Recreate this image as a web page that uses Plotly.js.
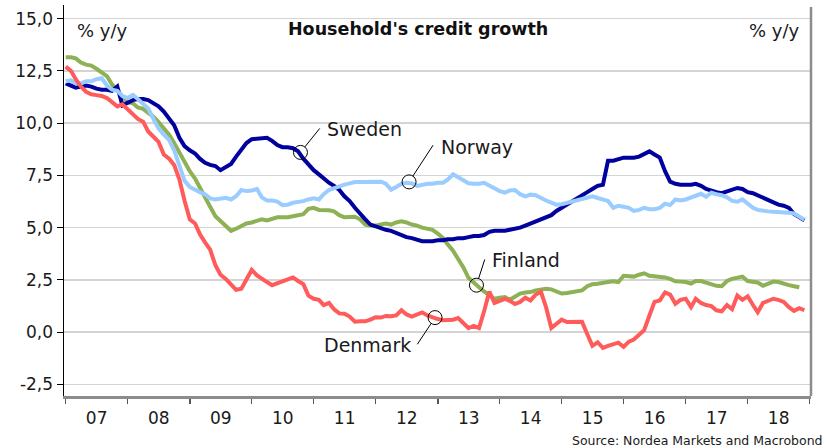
<!DOCTYPE html>
<html>
<head>
<meta charset="utf-8">
<script src="https://cdn.plot.ly/plotly-3.0.1.min.js"></script>
<style>html,body{margin:0;padding:0;background:#fff;}#chart{width:828px;height:448px;}</style>
</head>
<body>
<div id="chart"></div>
<script>
// Monthly data, Jan 2007 onward (% y/y)
const startYear = 2007;
const yTickVals = [-2.5, 0, 2.5, 5, 7.5, 10, 12.5, 15];
const yTickText = ['-2,5', '0,0', '2,5', '5,0', '7,5', '10,0', '12,5', '15,0'];
const sweden = [
  11.9, 11.8, 11.7, 11.75, 11.8, 11.75, 11.65, 11.6, 11.6, 11.55, 11.75, 10.85,
  11.0, 11.1, 11.15, 11.15, 11.1, 10.95, 10.8, 10.55, 10.2, 9.9, 9.3, 8.9,
  8.7, 8.55, 8.3, 8.1, 8.0, 7.95, 7.75, 7.9, 8.05, 8.4, 8.7, 9.05,
  9.23, 9.25, 9.25, 9.3, 9.15, 8.95, 8.85, 8.85, 8.8, 8.65, 8.3, 8.0,
  7.75, 7.55, 7.35, 7.15, 7.0, 6.8, 6.5, 6.27, 5.95, 5.65, 5.4, 5.15,
  5.05, 4.95, 4.9, 4.85, 4.75, 4.65, 4.55, 4.5, 4.4, 4.35, 4.35, 4.35,
  4.4, 4.4, 4.45, 4.45, 4.5, 4.5, 4.55, 4.6, 4.6, 4.65, 4.8, 4.85,
  4.85, 4.85, 4.9, 4.95, 5.0, 5.1, 5.2, 5.3, 5.4, 5.5, 5.6, 5.8,
  5.95, 6.1, 6.25, 6.35, 6.55, 6.7, 6.85, 7.0, 7.05, 8.2, 8.2, 8.25,
  8.35, 8.35, 8.35, 8.4, 8.55, 8.65, 8.5, 8.35, 7.7, 7.2, 7.1, 7.05,
  7.05, 7.05, 7.1, 7.0, 6.85, 6.75, 6.7, 6.65, 6.75, 6.85, 6.9, 6.85,
  6.7, 6.65, 6.55, 6.4, 6.3, 6.2, 6.1, 6.05, 5.95, 5.65, 5.5, 5.35
];
const norway = [
  12.0, 12.05, 11.9, 11.9, 12.0, 12.0, 12.1, 12.15, 11.8, 11.6, 11.55, 11.3,
  11.2, 11.35, 11.15, 10.9, 10.7, 10.2, 9.75, 9.45, 9.2, 8.7, 8.0, 7.25,
  6.95, 6.8, 6.7, 6.6, 6.4, 6.35, 6.4, 6.43, 6.35, 6.5, 6.8, 6.75,
  6.78, 6.85, 6.45, 6.3, 6.3, 6.25, 6.08, 6.1, 6.19, 6.22, 6.27, 6.35,
  6.4, 6.35, 6.6, 6.8, 6.9, 7.0, 7.06, 7.12, 7.18, 7.18, 7.18, 7.18,
  7.18, 7.2, 7.1, 6.82, 6.95, 7.1, 7.15, 7.12, 7.0, 7.05, 7.1, 7.1,
  7.15, 7.15, 7.3, 7.55, 7.4, 7.3, 7.12, 7.1, 7.1, 7.15, 7.0, 6.9,
  6.75, 6.68, 6.78, 6.8, 6.6, 6.5, 6.58, 6.55, 6.4, 6.3, 6.2, 6.1,
  6.12, 6.19, 6.25, 6.3, 6.4, 6.48, 6.5, 6.42, 6.35, 6.28, 5.95, 6.05,
  6.0, 5.95, 5.8, 5.85, 5.95, 5.88, 5.88, 5.95, 6.15, 6.08, 6.35, 6.3,
  6.35, 6.46, 6.55, 6.62, 6.48, 6.67, 6.6, 6.55, 6.45, 6.28, 6.24, 6.35,
  6.15, 5.95, 5.85, 5.8, 5.78, 5.76, 5.76, 5.76, 5.72, 5.68, 5.55, 5.38
];
const finland = [
  13.15, 13.15, 13.1, 12.9, 12.8, 12.75, 12.6, 12.45, 12.25, 11.85, 11.6, 11.25,
  11.0, 10.95, 10.75, 10.68, 10.5, 10.3, 10.05, 9.75, 9.45, 9.05, 8.6, 8.1,
  7.7, 7.35, 6.9, 6.45, 6.0, 5.55, 5.3, 5.05, 4.85, 4.95, 5.1, 5.2,
  5.25, 5.35, 5.4, 5.35, 5.4, 5.5, 5.5, 5.5, 5.55, 5.6, 5.65, 5.9,
  5.95, 5.85, 5.85, 5.83, 5.78, 5.6, 5.5, 5.5, 5.52, 5.4, 5.15, 5.1,
  5.1, 5.15, 5.2, 5.15, 5.25, 5.3, 5.25, 5.15, 5.1, 5.0, 4.95, 4.9,
  4.72, 4.5, 4.2, 3.9, 3.5, 3.1, 2.6, 2.35, 2.15, 1.95, 1.75, 1.6,
  1.65, 1.68, 1.55, 1.7, 1.85, 1.9, 1.92, 2.0, 2.05, 2.08, 2.05, 1.95,
  1.85, 1.88, 1.92, 1.95, 2.0, 2.2, 2.3, 2.32, 2.34, 2.4, 2.44, 2.4,
  2.7, 2.7, 2.66, 2.75, 2.82, 2.7, 2.68, 2.66, 2.62, 2.55, 2.44, 2.42,
  2.4, 2.33, 2.45, 2.45, 2.38, 2.3, 2.22, 2.2, 2.45, 2.55, 2.62, 2.66,
  2.45, 2.4, 2.38, 2.22, 2.3, 2.42, 2.4, 2.3, 2.25, 2.2, 2.15
];
const denmark = [
  12.7, 12.5, 12.1, 11.75, 11.5, 11.38, 11.34, 11.3, 11.2, 11.02, 10.8, 10.9,
  10.65, 10.4, 10.2, 10.07, 9.6, 9.35, 9.1, 8.5, 8.3, 8.0, 7.3, 6.3,
  5.4, 5.2, 4.7, 4.3, 3.95, 3.2, 2.75, 2.55, 2.3, 2.03, 2.08, 2.5,
  2.98, 2.72, 2.55, 2.4, 2.25, 2.35, 2.45, 2.55, 2.62, 2.45, 2.3, 1.75,
  1.6, 1.55, 1.3, 1.4, 1.1, 0.9, 0.88, 0.75, 0.5, 0.52, 0.52, 0.6,
  0.72, 0.7, 0.78, 0.76, 0.8, 1.05, 0.85, 0.75, 0.85, 0.95, 0.8, 0.7,
  0.63, 0.57, 0.58, 0.6, 0.68, 0.45, 0.2, 0.3, 0.2, 1.0, 1.95, 1.4,
  1.5, 1.6, 1.5, 1.35, 1.45, 1.65, 1.52, 1.8, 1.93, 1.2, 0.2, 0.4,
  0.6, 0.49, 0.5, 0.52, 0.5, -0.1, -0.65, -0.48, -0.75, -0.65, -0.55, -0.5,
  -0.7, -0.45, -0.35, -0.15, 0.1, 0.8, 1.45, 1.52, 1.9, 1.8, 1.36, 1.55,
  1.6, 1.2, 1.6, 1.4, 1.3, 1.25, 1.05, 1.0, 1.3, 1.1, 1.75, 1.55,
  1.72, 1.3, 0.96, 1.4, 1.5, 1.6, 1.55, 1.45, 1.2, 1.02, 1.15, 1.05
];

function monthDates(n) {
  const out = [];
  for (let i = 0; i < n; i++) {
    const y = startYear + Math.floor(i / 12);
    const m = (i % 12) + 1;
    out.push(y + '-' + (m < 10 ? '0' + m : m) + '-01');
  }
  return out;
}

const seriesDefs = [
  {name: 'Finland', data: finland, color: '#8db154'},
  {name: 'Sweden',  data: sweden,  color: '#00009e'},
  {name: 'Norway',  data: norway,  color: '#9accff'},
  {name: 'Denmark', data: denmark, color: '#ff5b5b'}
];

const traces = seriesDefs.map(s => ({
  type: 'scatter', mode: 'lines', name: s.name,
  x: monthDates(s.data.length), y: s.data,
  line: {color: s.color, width: 4, shape: 'linear'},
  hoverinfo: 'skip'
}));

// Callout labels: anchor (date, value), line end offset (px, up positive), text offset
const callouts = [
  {text: 'Sweden',  date: '2010-10-15', val: 8.6,  lx: 19.3, ly: 24,    tx: 24.3, ty: 23,  anchor: 'left'},
  {text: 'Norway',  date: '2012-07-16', val: 7.19, lx: 24,   ly: 36.7,  tx: 30,   ty: 35,  anchor: 'left'},
  {text: 'Finland', date: '2013-08-17', val: 2.25, lx: 8.3,  ly: 25.7,  tx: 13.3, ty: 25,  anchor: 'left'},
  {text: 'Denmark', date: '2012-12-16', val: 0.70, lx: -17.7, ly: -26.7, tx: -22, ty: -27, anchor: 'right'}
];
const R = 7;
const shapes = [
  {type: 'line', xref: 'paper', yref: 'paper', x0: 1, x1: 1, y0: 0, y1: 0.995,
   line: {color: '#8c8c8c', width: 2.5}}
];
const annotations = [];
const labelFont = {family: 'DejaVu Sans', size: 19, color: '#1a1a1a'};
callouts.forEach(c => {
  shapes.push({type: 'circle', xref: 'x', yref: 'y', xsizemode: 'pixel', ysizemode: 'pixel',
    xanchor: c.date, yanchor: c.val, x0: -R, x1: R, y0: -R, y1: R,
    line: {color: '#000', width: 1}, fillcolor: 'rgba(0,0,0,0)'});
  const len = Math.sqrt(c.lx * c.lx + c.ly * c.ly);
  shapes.push({type: 'line', xref: 'x', yref: 'y', xsizemode: 'pixel', ysizemode: 'pixel',
    xanchor: c.date, yanchor: c.val,
    x0: c.lx * R / len, y0: c.ly * R / len, x1: c.lx, y1: c.ly,
    line: {color: '#000', width: 1}});
  annotations.push({text: c.text, x: c.date, y: c.val, xref: 'x', yref: 'y',
    showarrow: false, xanchor: c.anchor, yanchor: 'middle', xshift: c.tx, yshift: c.ty,
    font: labelFont});
});
const unitFont = {family: 'DejaVu Sans', size: 18, color: '#1a1a1a'};
annotations.push({text: '% y/y', xref: 'paper', yref: 'paper', x: 0.0147, y: 0.935,
  xanchor: 'left', yanchor: 'middle', showarrow: false, font: unitFont});
annotations.push({text: '% y/y', xref: 'paper', yref: 'paper', x: 0.988, y: 0.935,
  xanchor: 'right', yanchor: 'middle', showarrow: false, font: unitFont});
annotations.push({text: 'Source: Nordea Markets and Macrobond', xref: 'paper', yref: 'paper',
  x: 1.0187, y: -0.1143, xanchor: 'right', yanchor: 'middle', showarrow: false,
  font: {family: 'DejaVu Sans', size: 12.5, color: '#1a1a1a'}});

const layout = {
  width: 828, height: 448,
  margin: {l: 64, r: 17, t: 5, b: 52, pad: 0},
  paper_bgcolor: '#fff', plot_bgcolor: '#fff',
  showlegend: false,
  title: {text: "<b>Household's credit growth</b>", x: 0.505, y: 0.9346, xref: 'container', yref: 'container',
    xanchor: 'center', yanchor: 'middle', font: {family: 'DejaVu Sans', size: 17.5, color: '#111'}},
  xaxis: {
    type: 'date', range: ['2006-12-22', '2019-01-09'],
    tick0: '2007-01-01', dtick: 'M12', tickformat: '%y', ticklabelmode: 'period',
    ticks: 'outside', ticklen: 5, tickwidth: 1.5, tickcolor: '#555',
    showline: true, linecolor: '#8c8c8c', linewidth: 2.5,
    showgrid: false, zeroline: false,
    tickfont: {family: 'DejaVu Sans', size: 17, color: '#1a1a1a'}
  },
  yaxis: {
    range: [-3.05, 15.65], tickmode: 'array', tickvals: yTickVals, ticktext: yTickText,
    ticks: 'outside', ticklen: 6, tickwidth: 1, tickcolor: '#000',
    showline: true, linecolor: '#000', linewidth: 1.5,
    showgrid: true, gridcolor: '#d4d4d4', gridwidth: 1.5, zeroline: false,
    tickfont: {family: 'DejaVu Sans', size: 17, color: '#1a1a1a'}
  },
  shapes: shapes,
  annotations: annotations
};

Plotly.newPlot('chart', traces, layout, {staticPlot: true, displayModeBar: false});
</script>
</body>
</html>
